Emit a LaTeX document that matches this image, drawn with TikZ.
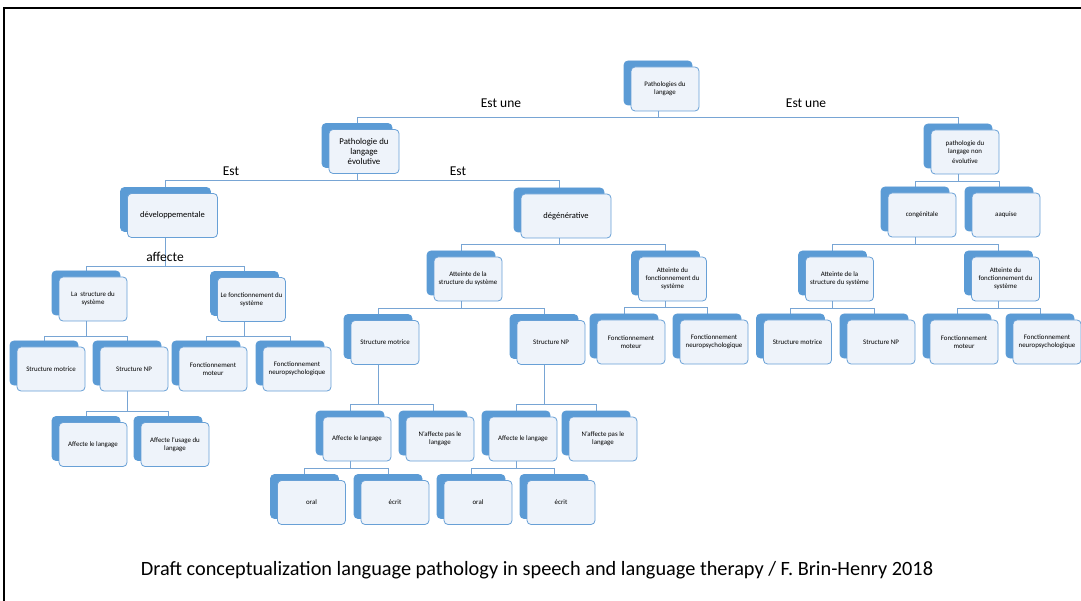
\documentclass[tikz,border=0pt]{standalone}
\usepackage{fontspec}
\setmainfont{Carlito}
\usetikzlibrary{shadows,backgrounds,calc}

\definecolor{boxshade}{RGB}{91,155,213}
\definecolor{boxline}{RGB}{104,160,214}
\definecolor{boxfill}{RGB}{238,243,250}
\definecolor{linkcol}{RGB}{120,165,212}

\tikzset{
  box/.style={draw=boxline, fill=boxfill, rounded corners=4pt, line width=0.8pt,
    minimum width=68pt, minimum height=44pt, inner sep=1pt, align=center,
    font=\fontsize{6.9}{8}\selectfont,
    copy shadow={shadow xshift=-7pt, shadow yshift=6pt, fill=boxshade, draw=boxshade}},
  bigbox/.style={box, minimum width=70pt, font=\fontsize{8.8}{10}\selectfont},
  widebox/.style={box, minimum width=90pt, font=\fontsize{8.5}{10}\selectfont},
  link/.style={draw=linkcol, line width=0.8pt},
  lbl/.style={font=\fontsize{13.5}{15}\selectfont, inner sep=0pt}
}

% elbow connector between the shaded backs of two boxes
\newcommand\orglink[3]{%
  \draw[link] let \p1=(#1.center), \p2=(#2.center), \p3=(0,#3) in
    (\x1-7pt,\y1) -- (\x1-7pt,\y3) -- (\x2-7pt,\y3) -- (\x2-7pt,\y2);}

\begin{document}
\begin{tikzpicture}[x=1pt,y=-1pt]
\useasboundingbox (0,0) rectangle (1081,601);

% frame
\draw[line width=2.5pt] (4,601) -- (4,8) -- (1081,8);

% top levels
\node[box] (root) at (665,89) {Pathologies du\\langage};
\node[bigbox] (evo) at (364,151.5) {Pathologie du\\langage\\évolutive};
\node[box] (nonevo) at (965,152) {pathologie du\\langage non\\[2pt]évolutive};

\node[widebox] (dev) at (172.5,215.5) {développementale};
\node[widebox] (deg) at (566,216) {dégénérative};
\node[box] (cong) at (922,215) {congénitale};
\node[box] (acq) at (1006,215) {aaquise};

% developpementale
\node[box] (dstruct) at (93,299) {La\ \ structure du\\système};
\node[box] (dfonc) at (251.5,299.5) {Le fonctionnement du\\système};
\node[box] (dsm) at (51,369) {Structure motrice};
\node[box] (dsnp) at (134,369) {Structure NP};
\node[box] (dfm) at (213,369) {Fonctionnement\\moteur};
\node[box] (dfnp) at (297,369) {Fonctionnement\\neuropsychologique};
\node[box] (daff) at (93,444.5) {Affecte le langage};
\node[box] (dusage) at (175,444.5) {Affecte l'usage du\\langage};

% degenerative
\node[box] (gstruct) at (468,279) {Atteinte de la\\structure du système};
\node[box] (gfonc) at (672.5,279) {Atteinte du\\fonctionnement du\\système};
\node[box] (gsm) at (385,342.5) {Structure motrice};
\node[box] (gsnp) at (551,342.5) {Structure NP};
\node[box] (gfm) at (631,342) {Fonctionnement\\moteur};
\node[box] (gfnp) at (714,342) {Fonctionnement\\neuropsychologique};
\node[box] (gaffa) at (357,439) {Affecte le langage};
\node[box] (gnaffa) at (440,439) {N'affecte pas le\\langage};
\node[box] (gaffb) at (523,439) {Affecte le langage};
\node[box] (gnaffb) at (603,439) {N'affecte pas le\\langage};
\node[box] (gorala) at (311.5,502.5) {oral};
\node[box] (gecrita) at (395,502.5) {écrit};
\node[box] (goralb) at (478,502.5) {oral};
\node[box] (gecritb) at (561,502.5) {écrit};

% congenitale
\node[box] (cstruct) at (839.5,279) {Atteinte de la\\structure du système};
\node[box] (cfonc) at (1005.5,279) {Atteinte du\\fonctionnement du\\système};
\node[box] (csm) at (797.5,342) {Structure motrice};
\node[box] (csnp) at (881,342) {Structure NP};
\node[box] (cfm) at (964,342) {Fonctionnement\\moteur};
\node[box] (cfnp) at (1047,342) {Fonctionnement\\neuropsychologique};

% labels
\node[lbl] (estune1) at (501,103) {Est une};
\node[lbl] (estune2) at (806,103) {Est une};
\node[lbl] (est1) at (231,171) {Est};
\node[lbl] (est2) at (458,171) {Est};
\node[lbl] (affecte) at (165,257) {affecte};

\node[font=\fontsize{20.3}{22}\selectfont] (caption) at (537,570)
  {Draft conceptualization language pathology in speech and language therapy / F. Brin-Henry 2018};

\begin{scope}[on background layer]
\orglink{root}{evo}{117}
\orglink{root}{nonevo}{117}
\orglink{evo}{dev}{180}
\orglink{evo}{deg}{180}
\orglink{nonevo}{cong}{181}
\orglink{nonevo}{acq}{181}
\orglink{dev}{dstruct}{266}
\orglink{dev}{dfonc}{266}
\orglink{dstruct}{dsm}{336}
\orglink{dstruct}{dsnp}{336}
\orglink{dfonc}{dfm}{336}
\orglink{dfonc}{dfnp}{336}
\orglink{dsnp}{daff}{411}
\orglink{dsnp}{dusage}{411}
\orglink{deg}{gstruct}{244}
\orglink{deg}{gfonc}{244}
\orglink{gstruct}{gsm}{308}
\orglink{gstruct}{gsnp}{308}
\orglink{gfonc}{gfm}{307}
\orglink{gfonc}{gfnp}{307}
\orglink{gsm}{gaffa}{404}
\orglink{gsm}{gnaffa}{404}
\orglink{gsnp}{gaffb}{404}
\orglink{gsnp}{gnaffb}{404}
\orglink{gaffa}{gorala}{468}
\orglink{gaffa}{gecrita}{468}
\orglink{gaffb}{goralb}{468}
\orglink{gaffb}{gecritb}{468}
\orglink{cong}{cstruct}{244}
\orglink{cong}{cfonc}{244}
\orglink{cstruct}{csm}{308}
\orglink{cstruct}{csnp}{308}
\orglink{cfonc}{cfm}{308}
\orglink{cfonc}{cfnp}{308}
\end{scope}

\end{tikzpicture}
\end{document}
